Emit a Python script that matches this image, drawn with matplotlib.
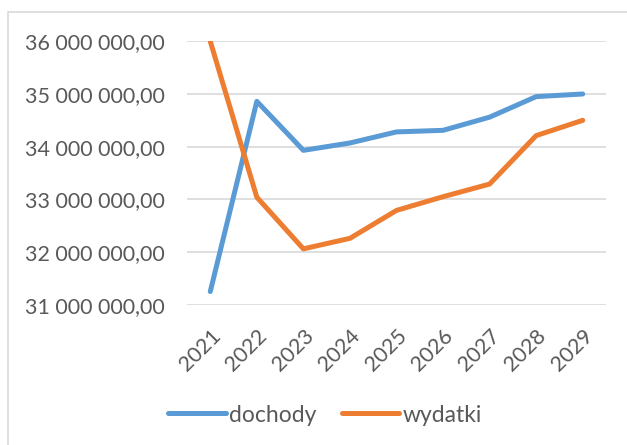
import matplotlib.pyplot as plt
from matplotlib.patches import Rectangle
from matplotlib.ticker import FuncFormatter

lata = ['2021', '2022', '2023', '2024', '2025', '2026', '2027', '2028', '2029']
dochody = [31250000, 34860000, 33930000, 34070000, 34280000, 34310000, 34560000, 34950000, 35000000]
wydatki = [36000000, 33040000, 32060000, 32260000, 32790000, 33050000, 33290000, 34210000, 34500000]

plt.rcParams['font.family'] = ['Lato', 'DejaVu Sans']
szary = '#595959'

def format_pl(v, pos):
    # 36000000 -> "36 000 000,00"
    return '{:,.2f}'.format(v).replace(',', ' ').replace('.', ',')

fig = plt.figure(figsize=(6.27, 4.45), dpi=100)

# chart frame (only left and top edges are visible)
fig.patches.append(Rectangle((8 / 627, -0.1), 1.2, 1 - 12 / 445 + 0.1,
                             transform=fig.transFigure, fill=False,
                             edgecolor='#D9D9D9', linewidth=1.2))

ax = fig.add_axes([187 / 627, 1 - 304.7 / 445, 419 / 627, 263.4 / 445])
x = range(len(lata))
ax.plot(x, dochody, color='#5B9BD5', linewidth=3.6, solid_capstyle='round', label='dochody')
ax.plot(x, wydatki, color='#ED7D31', linewidth=3.6, solid_capstyle='round', label='wydatki')

ax.set_xlim(-0.5, len(lata) - 0.5)
ax.set_ylim(31000000, 36000000)
ax.set_yticks(range(31000000, 36000001, 1000000))
ax.yaxis.set_major_formatter(FuncFormatter(format_pl))
ax.set_xticks(list(x))
ax.set_xticklabels(lata, rotation=45, ha='right', va='top', rotation_mode='anchor')

ax.grid(axis='y', color='#D9D9D9', linewidth=1.2)
ax.set_axisbelow(True)
for s in ax.spines.values():
    s.set_visible(False)
ax.tick_params(axis='y', length=0, pad=16, labelsize=15.5, labelcolor=szary)
ax.tick_params(axis='x', length=0, pad=15, labelsize=15.5, labelcolor=szary)

fig.legend(loc='center', bbox_to_anchor=(325 / 627, 1 - 415 / 445), ncol=2,
           frameon=False, fontsize=16.5, labelcolor=szary, handlelength=2.5,
           handletextpad=0.15, columnspacing=1.1)

fig.savefig('out.png', dpi=100)
